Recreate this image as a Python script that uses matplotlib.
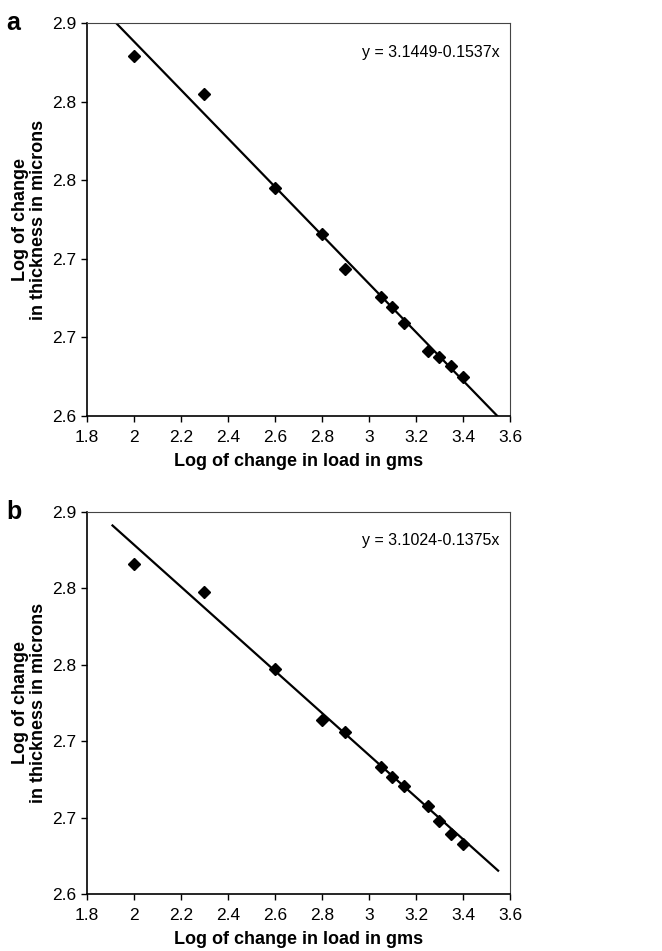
#!/usr/bin/env python3
"""
Log of change in thickness vs log of change in load, two panels (a, b)
with a fitted straight line each.
"""

import matplotlib
matplotlib.use('Agg')
import matplotlib.pyplot as plt
from matplotlib.ticker import FuncFormatter

plt.rcParams['font.family'] = ['Liberation Sans', 'DejaVu Sans']

# Log of change in load (gms), same for both panels
LOAD = [2.0, 2.3, 2.6, 2.8, 2.9, 3.05, 3.1, 3.15, 3.25, 3.3, 3.35, 3.4]

# Log of change in thickness (microns)
THICK_A = [2.875, 2.846, 2.774, 2.739, 2.712, 2.691, 2.683, 2.671,
           2.650, 2.645, 2.638, 2.630]
THICK_B = [2.859, 2.837, 2.777, 2.737, 2.727, 2.700, 2.692, 2.685,
           2.669, 2.657, 2.647, 2.639]

# Fitted lines as drawn (intercept, slope, x start, x end)
FIT_A = (3.2557, -0.1849, 1.92, 3.55)
FIT_B = (3.2047, -0.1652, 1.905, 3.553)

EQ_A = "y = 3.1449-0.1537x"
EQ_B = "y = 3.1024-0.1375x"

X_TICKS = [1.8, 2.0, 2.2, 2.4, 2.6, 2.8, 3.0, 3.2, 3.4, 3.6]
Y_TICKS = [2.6, 2.66, 2.72, 2.78, 2.84, 2.9]

W, H = 662, 951


def draw_panel(ax, x, y, fit, eq, letter):
    ax.plot(x, y, linestyle='none', marker='D', color='black',
            markersize=6, zorder=3)
    b, m, x0, x1 = fit
    ax.plot([x0, x1], [b + m * x0, b + m * x1], color='black', lw=1.6,
            solid_capstyle='butt', zorder=2)

    ax.set_xlim(1.8, 3.6)
    ax.set_ylim(2.6, 2.9)
    ax.set_xticks(X_TICKS)
    ax.set_yticks(Y_TICKS)
    ax.xaxis.set_major_formatter(FuncFormatter(lambda v, p: f"{v:g}"))
    ax.yaxis.set_major_formatter(FuncFormatter(lambda v, p: f"{v:.1f}"))
    ax.tick_params(direction='out', length=4, width=1, labelsize=12.5,
                   colors='black')
    ax.tick_params(axis='x', pad=6)
    for side in ['left', 'bottom']:
        ax.spines[side].set_linewidth(1.2)
    for side in ['top', 'right']:
        ax.spines[side].set_linewidth(0.8)
        ax.spines[side].set_color('#444444')

    ax.set_xlabel('Log of change in load in gms', fontsize=13,
                  fontweight='bold', labelpad=6)
    ax.set_ylabel('Log of change\nin thickness in microns', fontsize=13,
                  fontweight='bold', labelpad=4, linespacing=1.05)
    ax.text(0.975, 0.925, eq, transform=ax.transAxes, ha='right',
            va='center', fontsize=11.5)
    ax.text(-0.19, 1.0, letter, transform=ax.transAxes, ha='left',
            va='center', fontsize=18, fontweight='bold')


fig = plt.figure(figsize=(W / 100, H / 100), dpi=100)

# axes boxes in pixels: left, right, top, bottom
ax_a = fig.add_axes([87 / W, 1 - 416 / H, (510 - 87) / W, (416 - 23) / H])
ax_b = fig.add_axes([87 / W, 1 - 894 / H, (510 - 87) / W, (894 - 512) / H])

draw_panel(ax_a, LOAD, THICK_A, FIT_A, EQ_A, 'a')
draw_panel(ax_b, LOAD, THICK_B, FIT_B, EQ_B, 'b')

fig.savefig('out.png', dpi=100)
